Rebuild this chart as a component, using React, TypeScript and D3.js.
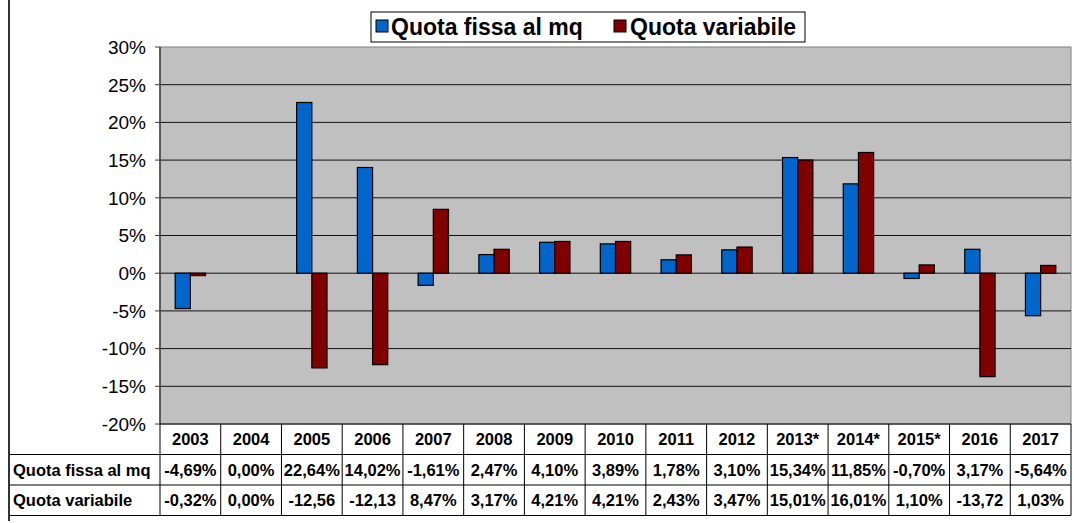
import React from "react";
import * as d3 from "d3";

const years = ["2003","2004","2005","2006","2007","2008","2009","2010","2011","2012","2013*","2014*","2015*","2016","2017"];
const quotaFissa = [-4.69, 0, 22.64, 14.02, -1.61, 2.47, 4.10, 3.89, 1.78, 3.10, 15.34, 11.85, -0.70, 3.17, -5.64];
const quotaVariabile = [-0.32, 0, -12.56, -12.13, 8.47, 3.17, 4.21, 4.21, 2.43, 3.47, 15.01, 16.01, 1.10, -13.72, 1.03];
const labelsFissa = ["-4,69%","0,00%","22,64%","14,02%","-1,61%","2,47%","4,10%","3,89%","1,78%","3,10%","15,34%","11,85%","-0,70%","3,17%","-5,64%"];
const labelsVariabile = ["-0,32%","0,00%","-12,56","-12,13","8,47%","3,17%","4,21%","4,21%","2,43%","3,47%","15,01%","16,01%","1,10%","-13,72","1,03%"];
const yTicks = [30, 25, 20, 15, 10, 5, 0, -5, -10, -15, -20];
const seriesNames = ["Quota fissa al mq", "Quota variabile"];
const colors = ["#0066CC", "#800000"];

export default function App() {
  const W = 1074, H = 523;
  const left = 160, right = 1071, top = 47, bottom = 424;
  const rowH = 30.5;
  const y = d3.scaleLinear().domain([-20, 30]).range([bottom, top]);
  const x = d3.scaleBand().domain(years).range([left, right]).paddingInner(0).paddingOuter(0);
  const bw = x.bandwidth();
  const inner = d3.scaleBand().domain(["a", "b"]).range([bw / 4, bw * 3 / 4]);
  const font = "Arial, 'Liberation Sans', sans-serif";
  const r1 = bottom + rowH, r2 = bottom + 2 * rowH, r3 = bottom + 3 * rowH;
  const tfs = 16.5;

  const bar = (v: number, xi: number, k: string, c: string, key: string) => {
    const y0 = y(0), y1 = y(v);
    return (
      <rect key={key} x={xi + inner(k)!} y={Math.min(y0, y1)} width={inner.bandwidth()}
        height={Math.max(Math.abs(y1 - y0), 0)} fill={c} stroke="#000" strokeWidth={1.2} />
    );
  };

  return (
    <svg width={W} height={H} style={{ position: "absolute", left: 0, top: 0 }} fontFamily={font}>
      <rect x={0} y={0} width={W} height={H} fill="#fff" />
      {/* plot area */}
      <rect x={left} y={top} width={right - left} height={bottom - top} fill="#C0C0C0" stroke="#808080" strokeWidth={1} />
      {yTicks.filter(t => t !== 30 && t !== -20).map(t => (
        <line key={"g" + t} x1={left} x2={right} y1={y(t)} y2={y(t)} stroke="#111" strokeWidth={1} />
      ))}
      {/* bars */}
      {years.map((yr, i) => {
        const xi = x(yr)!;
        return (
          <g key={yr}>
            {bar(quotaFissa[i], xi, "a", colors[0], "a" + i)}
            {bar(quotaVariabile[i], xi, "b", colors[1], "b" + i)}
          </g>
        );
      })}
      {/* y axis */}
      <line x1={left} x2={left} y1={top} y2={bottom} stroke="#404040" strokeWidth={1.5} />
      {yTicks.map(t => (
        <g key={"t" + t}>
          <line x1={left - 5} x2={left} y1={y(t)} y2={y(t)} stroke="#404040" strokeWidth={1} />
          <text x={left - 14} y={y(t)} dy="0.36em" textAnchor="end" fontSize={19} fill="#000">{t + "%"}</text>
        </g>
      ))}
      {/* table */}
      <line x1={left} x2={right} y1={bottom} y2={bottom} stroke="#000" strokeWidth={1} />
      <line x1={9} x2={right} y1={r1} y2={r1} stroke="#000" strokeWidth={1} />
      <line x1={9} x2={right} y1={r2} y2={r2} stroke="#000" strokeWidth={1} />
      <line x1={9} x2={right} y1={r3} y2={r3} stroke="#000" strokeWidth={1} />
      {years.map((yr) => (
        <line key={"v" + yr} x1={x(yr)!} x2={x(yr)!} y1={bottom} y2={r3} stroke="#000" strokeWidth={1} />
      ))}
      <line x1={right} x2={right} y1={bottom} y2={r3} stroke="#000" strokeWidth={1} />
      {years.map((yr, i) => (
        <g key={"c" + yr} fontSize={tfs} fontWeight="bold" textAnchor="middle" fill="#000">
          <text x={x(yr)! + bw / 2} y={(bottom + r1) / 2} dy="0.36em">{yr}</text>
          <text x={x(yr)! + bw / 2} y={(r1 + r2) / 2} dy="0.36em">{labelsFissa[i]}</text>
          <text x={x(yr)! + bw / 2} y={(r2 + r3) / 2} dy="0.36em">{labelsVariabile[i]}</text>
        </g>
      ))}
      <text x={13} y={(r1 + r2) / 2} dy="0.36em" fontSize={tfs} fontWeight="bold">{seriesNames[0]}</text>
      <text x={13} y={(r2 + r3) / 2} dy="0.36em" fontSize={tfs} fontWeight="bold">{seriesNames[1]}</text>
      {/* outer left border */}
      <line x1={9} x2={9} y1={0} y2={H - 2} stroke="#333" strokeWidth={2} />
      {/* legend */}
      <rect x={371} y={12} width={434} height={30} fill="#fff" stroke="#000" strokeWidth={1} />
      <rect x={376} y={20} width={12} height={12} fill={colors[0]} stroke="#000" strokeWidth={1} />
      <text x={391} y={27} dy="0.36em" fontSize={23} fontWeight="bold">{seriesNames[0]}</text>
      <rect x={614} y={20} width={12} height={12} fill={colors[1]} stroke="#000" strokeWidth={1} />
      <text x={630} y={27} dy="0.36em" fontSize={23} fontWeight="bold">{seriesNames[1]}</text>
    </svg>
  );
}
